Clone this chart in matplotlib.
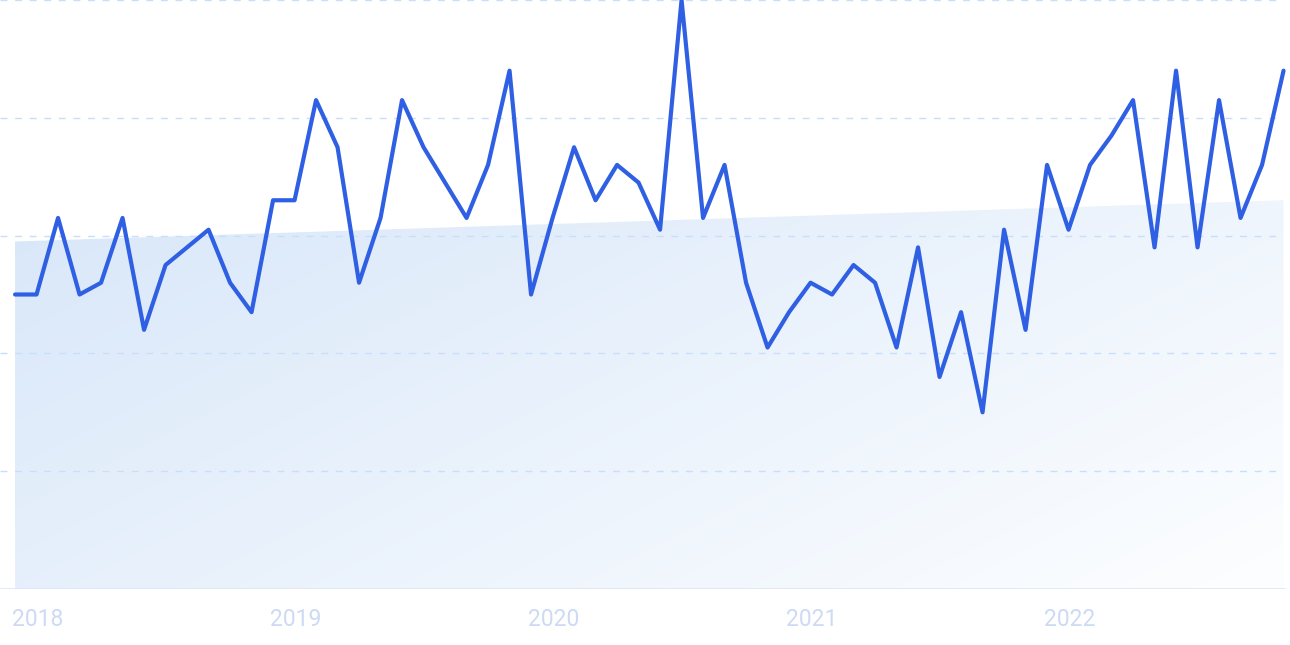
import numpy as np
import matplotlib.pyplot as plt
import matplotlib.transforms as mtransforms
from matplotlib.colors import to_rgb

# monthly interest, Jan 2018 .. Dec 2022
years = ["2018", "2019", "2020", "2021", "2022"]
interest = [50, 50, 63, 50, 52, 63, 44, 55, 58, 61, 52, 47,
            66, 66, 83, 75, 52, 63, 83, 75, 69, 63, 72, 88,
            50, 63, 75, 66, 72, 69, 61, 100, 63, 72, 52, 41,
            47, 52, 50, 55, 52, 41, 58, 36, 47, 30, 61, 44,
            72, 61, 72, 77, 83, 58, 88, 58, 83, 63, 72, 88]
trend = [59, 66]  # start / end of the shaded trend area
grid_levels = [20, 40, 60, 80, 100]

line_color = "#2f5fe3"
grid_color = "#c8dffb"
label_color = "#cddaf4"

fig = plt.figure(figsize=(12.9, 6.45), dpi=100)
ax = fig.add_axes([0, 56 / 645, 1, 589 / 645])
ax.set_xlim(-0.7, 59.3)
ax.set_ylim(0, 100)
ax.axis("off")

x = np.arange(len(interest))
last = len(interest) - 1

# gradient area under the trend
patch, = ax.fill([0, last, last, 0], [trend[0], trend[1], 0, 0],
                 facecolor="none", edgecolor="none")
nx_, ny_ = 300, 150
u = np.linspace(0, 1, nx_)[None, :]
v = np.linspace(1, 0, ny_)[:, None]
t = np.clip(0.62 * u + 0.38 * (1 - v), 0, 1)[..., None]
c0 = np.array(to_rgb("#d8e7f9"))
c1 = np.array(to_rgb("#fdfeff"))
img = c0 * (1 - t) + c1 * t
im = ax.imshow(img, extent=[0, last, 0, max(trend)], aspect="auto",
               origin="upper", zorder=1, interpolation="bilinear")
im.set_clip_path(patch)

# dashed grid
for g in grid_levels:
    ax.hlines(g, -0.7, 58.9, colors=grid_color, linewidth=1.0,
              linestyles=(0, (5, 5.5)), zorder=2, clip_on=False)

# baseline
ax.hlines(0, -0.7, last + 0.1, colors="#d9e5f8", linewidth=1.1, zorder=2)

ax.plot(x, interest, color=line_color, linewidth=3.0, zorder=3,
        solid_joinstyle="round", solid_capstyle="round", clip_on=False)

# year labels
trans = mtransforms.blended_transform_factory(ax.transData, fig.transFigure)
for i, yr in enumerate(years):
    ax.text(i * 12 - 0.15, 26 / 645, yr, transform=trans, ha="left",
            va="center", fontsize=16.5, color=label_color,
            family=["Roboto", "DejaVu Sans"])

fig.savefig("out.png", dpi=100)
